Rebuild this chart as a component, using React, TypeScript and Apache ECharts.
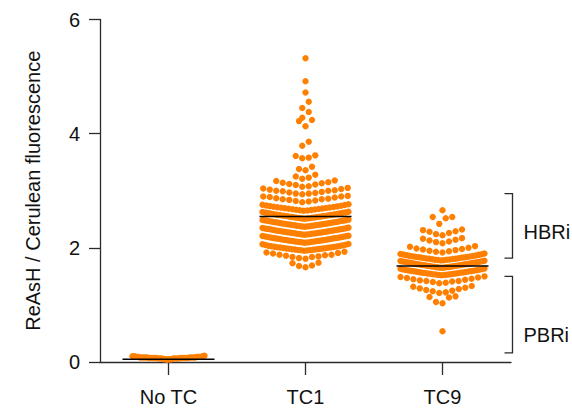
import React, { useEffect, useRef } from "react";
import * as echarts from "echarts";

const categories = ["No TC", "TC1", "TC9"];

const noTcValues = [
  0.04, 0.05, 0.05, 0.05, 0.05, 0.06, 0.06, 0.06, 0.06, 0.06, 0.06, 0.06, 0.07, 0.07,
  0.07, 0.07, 0.07, 0.07, 0.07, 0.07, 0.07, 0.07, 0.08, 0.08, 0.08, 0.08, 0.08, 0.08,
  0.08, 0.08, 0.08, 0.09, 0.09, 0.09, 0.09, 0.09, 0.1, 0.1, 0.1, 0.11,
];

const tc1Values = [
  1.66, 1.68, 1.69, 1.73, 1.74,
  1.81, 1.82, 1.84, 1.84, 1.85, 1.86, 1.87, 1.88, 1.88, 1.9, 1.91, 1.92, 1.93,
  1.95, 1.953, 1.957, 1.96, 1.962, 1.966, 1.97, 1.973, 1.975, 1.979, 1.983, 1.986, 1.99, 1.994,
  1.997, 2.001, 2.005, 2.008, 2.012, 2.016, 2.02, 2.024, 2.029, 2.033, 2.038, 2.043, 2.049,
  2.055, 2.061, 2.068,
  2.09, 2.093, 2.096, 2.099, 2.102, 2.106, 2.109, 2.112, 2.115, 2.118, 2.122, 2.125, 2.129,
  2.132, 2.136, 2.139, 2.143, 2.147, 2.15, 2.154, 2.158, 2.162, 2.166, 2.17, 2.174, 2.178,
  2.182, 2.186, 2.191, 2.195, 2.199, 2.203, 2.208, 2.213,
  2.23, 2.233, 2.236, 2.239, 2.242, 2.245, 2.248, 2.251, 2.254, 2.257, 2.261, 2.264, 2.267,
  2.27, 2.274, 2.277, 2.28, 2.284, 2.287, 2.291, 2.294, 2.298, 2.301, 2.305, 2.309, 2.312,
  2.316, 2.32, 2.324, 2.328, 2.332, 2.336, 2.34, 2.344, 2.349, 2.354,
  2.37, 2.373, 2.376, 2.379, 2.382, 2.385, 2.388, 2.391, 2.394, 2.398, 2.401, 2.404, 2.407,
  2.411, 2.414, 2.417, 2.421, 2.424, 2.428, 2.431, 2.435, 2.438, 2.442, 2.446, 2.449, 2.453,
  2.457, 2.461, 2.465, 2.469, 2.473, 2.477, 2.481, 2.485, 2.489, 2.494,
  2.51, 2.513, 2.516, 2.519, 2.522, 2.526, 2.529, 2.532, 2.535, 2.539, 2.542, 2.545, 2.549,
  2.552, 2.556, 2.559, 2.563, 2.566, 2.57, 2.574, 2.577, 2.581, 2.585, 2.589, 2.593, 2.597,
  2.601, 2.605, 2.609, 2.613, 2.617, 2.621, 2.626, 2.631,
  2.65, 2.654, 2.658, 2.662, 2.666, 2.67, 2.675, 2.679, 2.683, 2.688, 2.692, 2.697, 2.701,
  2.706, 2.711, 2.716, 2.721, 2.726, 2.731, 2.737, 2.743, 2.749, 2.756, 2.764,
  2.8, 2.81, 2.82, 2.83, 2.84, 2.85, 2.85, 2.86, 2.87, 2.88, 2.89, 2.9, 2.9, 2.91,
  2.94, 2.95, 2.95, 2.96, 2.97, 2.98, 2.99, 3.0, 3.0, 3.01, 3.02, 3.03, 3.04, 3.05,
  3.07, 3.08, 3.1, 3.11, 3.12, 3.13, 3.14, 3.15, 3.17, 3.18,
  3.21, 3.23, 3.25, 3.28,
  3.36, 3.38, 3.42,
  3.57, 3.58, 3.61, 3.62,
  3.79, 3.86,
  4.13, 4.22, 4.24,
  4.28, 4.38,
  4.45, 4.56,
  4.72, 4.92, 5.32,
];

const tc9Values = [
  0.54,
  1.03, 1.05, 1.13, 1.14, 1.15,
  1.21, 1.22, 1.24, 1.25, 1.26, 1.28, 1.29, 1.3, 1.32, 1.33,
  1.38, 1.39, 1.4, 1.41, 1.42, 1.42, 1.43, 1.44, 1.45, 1.46, 1.47, 1.48, 1.49, 1.5,
  1.52, 1.523, 1.526, 1.529, 1.532, 1.535, 1.538, 1.541, 1.545, 1.548, 1.551, 1.555, 1.558,
  1.562, 1.565, 1.569, 1.572, 1.576, 1.58, 1.584, 1.588, 1.592, 1.596, 1.6, 1.604, 1.608,
  1.613, 1.617, 1.622, 1.627, 1.632, 1.638,
  1.65, 1.653, 1.656, 1.659, 1.662, 1.665, 1.668, 1.671, 1.674, 1.677, 1.68, 1.684, 1.687,
  1.69, 1.694, 1.697, 1.7, 1.704, 1.707, 1.711, 1.714, 1.718, 1.722, 1.725, 1.729, 1.733,
  1.737, 1.741, 1.745, 1.749, 1.753, 1.757, 1.761, 1.765, 1.77, 1.775,
  1.78, 1.783, 1.786, 1.79, 1.793, 1.796, 1.8, 1.803, 1.807, 1.81, 1.814, 1.818, 1.821,
  1.825, 1.829, 1.833, 1.837, 1.841, 1.845, 1.849, 1.853, 1.858, 1.862, 1.867, 1.872, 1.877,
  1.882, 1.887, 1.893, 1.899,
  1.92, 1.93, 1.94, 1.95, 1.96, 1.97, 1.98, 1.99, 2.0, 2.02, 2.03,
  2.08, 2.1, 2.11, 2.13, 2.14, 2.16, 2.17,
  2.22, 2.24, 2.26, 2.28, 2.29, 2.31, 2.32,
  2.42, 2.52, 2.54, 2.54,
  2.66,
];

const medians = [0.05, 2.55, 1.68];

const bracketLabels = ["HBRi", "PBRi"];
const bracketLow = [1.82, 0.16];
const bracketHigh = [2.95, 1.5];
const bracketLabelAt = [2.27, 0.47];

const ORANGE = "#ff8000";
const AXIS = "#2b2b2b";
const FONT = "Liberation Sans, Arial, Helvetica, sans-serif";

// Prism-like swarm layout: rows of nearby values, smallest in the middle, spreading outward
function swarm(values: number[], cat: number, maxSpan: number, binSize: number, step: number) {
  const sorted = [...values].sort((a, b) => a - b);
  const out: number[][] = [];
  let i = 0;
  while (i < sorted.length) {
    const start = sorted[i];
    let j = i;
    while (j < sorted.length && sorted[j] < start + binSize - 1e-9) j++;
    const row = sorted.slice(i, j);
    const n = row.length;
    const s = n > 1 ? Math.min(step, maxSpan / (n - 1)) : 0;
    row.forEach((v, k) => {
      let slot: number;
      if (n % 2 === 1) {
        slot = k === 0 ? 0 : k % 2 === 1 ? -Math.ceil(k / 2) : k / 2;
      } else {
        const m = Math.floor(k / 2) + 0.5;
        slot = k % 2 === 0 ? -m : m;
      }
      out.push([cat, v, slot * s]);
    });
    i = j;
  }
  return out;
}

export default function App() {
  const ref = useRef<HTMLDivElement>(null);

  useEffect(() => {
    document.body.style.margin = "0";
    if (!ref.current) return;
    const chart = echarts.init(ref.current, undefined, { renderer: "svg" });

    const dots = [
      ...swarm(noTcValues, 0, 72, 0.13, 6.5),
      ...swarm(tc1Values, 1, 86, 0.13, 6.5),
      ...swarm(tc9Values, 2, 84, 0.13, 6.5),
    ];

    const option: any = {
      animation: false,
      backgroundColor: "#ffffff",
      grid: { left: 100, right: 61, top: 19.5, bottom: 50, containLabel: false },
      xAxis: {
        type: "category",
        data: categories,
        boundaryGap: true,
        axisLine: { show: true, lineStyle: { color: AXIS, width: 1.3 } },
        axisTick: { show: true, alignWithLabel: true, length: 13, lineStyle: { color: AXIS, width: 1.3 } },
        axisLabel: { fontSize: 20, color: "#111", fontFamily: FONT, margin: 25 },
        splitLine: { show: false },
      },
      yAxis: {
        type: "value",
        min: 0,
        max: 6,
        interval: 2,
        name: "ReAsH / Cerulean fluorescence",
        nameLocation: "middle",
        nameGap: 57,
        nameTextStyle: { fontSize: 20, color: "#111", fontFamily: FONT },
        axisLine: { show: true, lineStyle: { color: AXIS, width: 1.3 } },
        axisTick: { show: true, length: 11, lineStyle: { color: AXIS, width: 1.3 } },
        axisLabel: { fontSize: 20, color: "#111", fontFamily: FONT, margin: 20 },
        splitLine: { show: false },
      },
      series: [
        {
          type: "custom",
          data: dots,
          encode: { x: 0, y: 1 },
          z: 2,
          renderItem: (_p: any, api: any) => {
            const c = api.coord([api.value(0), api.value(1)]);
            return {
              type: "circle",
              shape: { cx: c[0] + api.value(2), cy: c[1], r: 3.2 },
              style: { fill: ORANGE },
            };
          },
        },
        {
          type: "custom",
          data: medians.map((m, i) => [i, m]),
          encode: { x: 0, y: 1 },
          z: 3,
          renderItem: (_p: any, api: any) => {
            const c = api.coord([api.value(0), api.value(1)]);
            return {
              type: "line",
              shape: { x1: c[0] - 46, y1: c[1], x2: c[0] + 46, y2: c[1] },
              style: { stroke: "#000", lineWidth: 1.5 },
            };
          },
        },
        {
          type: "custom",
          data: bracketLow.map((lo, i) => [2, lo, bracketHigh[i], bracketLabelAt[i]]),
          encode: { x: 0, y: [1, 2] },
          z: 3,
          renderItem: (params: any, api: any) => {
            const base = api.coord([2, 0]);
            const x = base[0] + 70;
            const yLo = api.coord([2, api.value(1)])[1];
            const yHi = api.coord([2, api.value(2)])[1];
            const yLab = api.coord([2, api.value(3)])[1];
            return {
              type: "group",
              children: [
                {
                  type: "polyline",
                  shape: { points: [[x - 8, yHi], [x, yHi], [x, yLo], [x - 8, yLo]] },
                  style: { stroke: AXIS, lineWidth: 1.3, fill: "none" },
                },
                {
                  type: "text",
                  style: {
                    text: bracketLabels[params.dataIndex],
                    x: x + 11,
                    y: yLab,
                    align: "left",
                    verticalAlign: "middle",
                    fontSize: 20,
                    fontFamily: FONT,
                    fill: "#111",
                  },
                },
              ],
            };
          },
        },
      ],
    };

    chart.setOption(option);
    return () => chart.dispose();
  }, []);

  return <div ref={ref} style={{ width: 572, height: 412 }} />;
}
